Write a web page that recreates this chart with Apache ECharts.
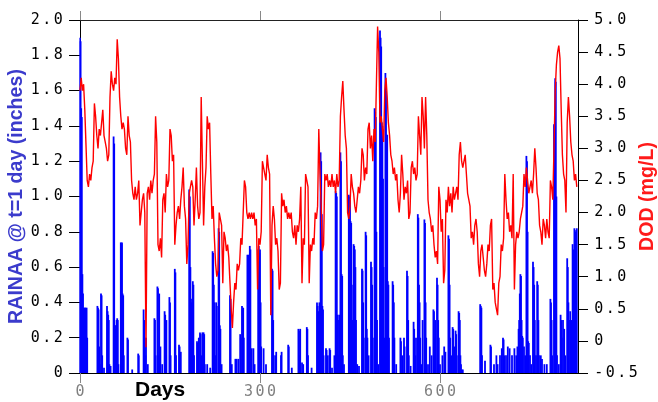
<!DOCTYPE html>
<html>
<head>
<meta charset="utf-8">
<script src="https://cdn.jsdelivr.net/npm/echarts@6/dist/echarts.min.js"></script>
<style>html,body{margin:0;padding:0;background:#fff;}#c{width:658px;height:402px;}</style>
</head>
<body>
<div id="c"></div>
<script>
// DOD (mg/L), sampled every 2 days from day 0 to day 828
const dodValues = [
3.9,4.1,3.9,4.0,3.6,3.05,2.5,2.4,2.6,2.5,
2.7,2.8,3.7,3.5,3.2,3.0,3.3,3.2,3.4,3.6,
3.2,3.1,3.0,2.8,2.9,3.8,4.2,4.0,3.9,4.1,
4.0,4.7,4.4,3.8,3.5,3.3,3.4,3.3,3.0,2.9,
3.5,3.2,3.1,2.5,2.3,2.2,2.4,2.2,2.3,2.5,
1.8,2.0,2.2,2.3,2.0,-0.1,2.3,2.4,2.2,2.5,
2.3,2.5,2.6,3.5,3.1,1.5,1.4,1.6,1.3,2.2,
2.3,2.0,2.6,2.4,2.5,3.3,3.2,2.8,2.9,1.5,
1.8,2.0,2.1,1.9,2.2,2.4,2.7,2.1,1.9,1.2,
1.5,2.3,2.4,2.5,2.4,1.8,2.2,2.7,2.1,1.9,
2.0,3.8,2.8,1.8,2.4,
2.7,3.5,3.3,3.4,2.6,1.9,2.1,1.6,1.2,1.0,
1.1,2.0,2.0,1.8,0.9,1.7,1.6,1.4,1.5,1.3,
0.9,0.5,0.2,0.6,0.9,0.8,1.2,1.1,1.2,1.6,
1.5,2.0,2.5,2.4,2.0,1.9,2.0,1.9,2.0,1.9,
2.0,1.8,1.9,0.8,1.6,1.5,1.7,2.8,2.7,2.6,
2.5,2.9,2.7,2.6,0.4,1.8,2.1,1.9,1.5,1.6,
1.4,0.8,0.9,2.3,2.1,2.2,2.0,2.1,1.9,2.0,
1.9,2.0,1.7,1.6,1.8,1.5,1.8,1.7,1.9,2.4,
0.9,1.6,1.5,2.6,2.5,2.4,0.9,1.5,1.4,1.6,
1.5,2.0,1.9,2.1,3.3,2.6,2.1,1.4,1.5,2.6,
2.5,2.6,2.4,
2.5,2.4,2.6,2.4,2.5,2.3,2.6,2.4,2.5,3.5,
3.8,4.05,3.6,3.2,3.0,2.0,1.9,2.1,2.6,2.4,
2.3,2.1,2.0,2.2,2.4,2.3,2.5,3.0,2.9,2.5,
2.7,2.6,3.3,3.4,3.0,3.2,2.8,3.3,3.1,4.0,
4.9,4.5,3.4,3.5,3.3,3.1,3.9,4.1,3.8,3.4,
3.2,2.9,2.8,2.6,2.7,2.5,2.6,2.2,2.0,2.3,
2.9,2.6,2.2,2.4,2.3,2.5,1.9,2.0,2.7,2.8,
2.6,2.7,2.5,2.6,3.5,3.2,2.9,3.8,3.5,3.0,
3.8,3.2,2.2,2.0,1.9,1.7,1.8,1.5,1.3,1.4,
1.2,2.4,2.2,1.7,1.9,0.9,1.1,2.2,2.0,2.4,
2.1,2.3,2.0,2.4,2.2,
2.3,2.4,2.2,2.9,3.1,2.8,2.7,2.8,2.9,2.6,
2.3,2.2,2.1,1.6,1.7,1.5,1.8,1.9,1.7,1.2,
1.0,1.4,1.5,1.3,1.1,1.0,1.2,1.5,1.4,1.8,
1.9,0.8,0.9,0.6,0.5,0.4,0.9,1.0,1.5,1.4,
1.6,2.6,2.2,1.9,2.0,1.7,1.8,1.6,2.6,0.8,
1.5,1.7,1.6,1.7,1.9,2.0,2.1,2.6,2.4,2.7,
2.5,2.3,2.4,2.5,2.3,2.6,3.0,2.7,2.3,2.2,
1.8,1.7,1.5,1.9,1.8,1.6,1.9,1.7,1.6,2.5,
2.4,2.2,3.0,3.9,4.3,4.5,4.6,4.4,3.6,2.9,
2.6,2.5,2.0,3.4,3.8,3.5,3.1,2.9,2.8,2.5,
2.6,2.4
];
const dodStepDays = 2;
const dodDays = dodValues.map((_, i) => i * dodStepDays);

// Rain (inches) on the days that had rain
const rainDays = [
0,1,2,3,4,5,6,7,8,9,10,11,12,
29,30,31,32,33,35,36,37,40,45,46,47,48,49,51,56,57,58,59,60,61,62,63,64,68,69,70,71,72,73,79,80,87,97,98,106,107,108,109,110,113,124,125,126,129,130,131,132,134,137,141,142,143,144,149,150,151,158,159,160,165,166,168,182,183,184,185,186,187,188,189,190,195,196,198,200,201,203,204,
206,207,208,212,217,221,222,223,224,225,227,228,231,232,233,234,236,250,251,253,259,261,264,267,268,270,271,272,273,279,280,281,282,283,284,286,289,291,297,298,299,300,301,302,306,310,320,321,322,323,326,327,335,336,347,348,353,364,365,366,367,370,372,378,379,380,386,395,396,397,398,399,401,402,403,404,405,406,410,411,413,
416,417,420,424,426,427,428,429,430,431,432,434,435,436,437,438,440,448,449,450,451,452,453,454,456,457,458,459,460,462,465,470,471,472,473,476,477,478,479,481,485,486,487,488,491,492,493,494,495,497,500,501,502,503,504,505,506,507,509,510,511,512,513,514,515,521,522,523,524,527,534,535,537,540,541,545,546,547,548,551,556,557,559,560,563,564,565,566,567,569,571,574,575,576,577,580,583,586,589,590,591,592,595,596,597,598,600,604,607,609,614,615,616,617,619,621,622,624,
626,627,628,631,632,633,634,635,636,638,667,668,669,670,675,684,685,690,694,696,700,703,705,706,707,710,713,716,720,724,727,729,731,732,733,734,735,736,737,738,740,742,744,745,746,747,748,750,752,755,756,757,758,760,762,763,764,765,768,770,774,778,784,785,786,787,790,791,792,793,794,795,798,801,802,803,805,807,809,812,813,814,815,817,819,821,822,823,824,825,826,827,828
];
const rainValues = [
1.9,1.88,1.5,1.45,0.56,0.45,0.37,0.36,0.37,0.37,0.36,0.37,0.2,
0.38,0.37,0.36,0.15,0.05,0.45,0.44,0.1,0.03,0.38,0.35,0.33,0.3,0.05,0.04,1.34,1.3,0.27,0.25,0.27,0.3,0.31,0.3,0.05,0.74,0.73,0.74,0.45,0.44,0.1,0.2,0.19,0.02,0.11,0.1,0.36,0.3,0.2,0.1,0.2,0.05,0.31,0.3,0.1,0.49,0.48,0.1,0.45,0.15,0.05,0.35,0.33,0.1,0.3,0.43,0.4,0.1,0.59,0.57,0.1,0.16,0.15,0.12,1.04,1.0,0.6,0.42,0.4,0.1,0.52,0.5,0.1,0.18,0.17,0.2,0.23,0.22,0.1,0.23,
0.23,0.22,0.05,0.05,0.03,0.69,0.68,0.5,0.4,0.1,0.4,0.38,0.82,0.8,0.27,0.25,0.05,0.44,0.42,0.05,0.08,0.08,0.08,0.22,0.2,0.38,0.36,0.37,0.2,0.67,0.66,0.67,0.5,0.72,0.7,0.14,0.14,0.05,0.7,0.72,0.68,0.7,0.4,0.15,0.14,0.05,0.59,0.58,0.3,0.1,0.1,0.12,0.1,0.12,0.16,0.15,0.03,0.25,0.24,0.1,0.25,0.06,0.05,0.26,0.25,0.1,0.03,0.4,0.38,0.35,0.3,0.4,1.25,1.2,0.9,0.38,0.36,0.1,0.14,0.13,0.1,
0.14,0.13,0.03,0.1,1.03,1.02,1.0,0.33,0.3,0.1,0.33,1.25,1.2,0.56,0.55,0.1,0.05,1.01,1.0,0.98,0.86,0.85,0.5,0.3,0.73,0.72,0.7,0.6,0.3,0.05,0.04,0.59,0.58,0.4,0.2,0.8,0.78,0.25,0.2,0.1,0.63,0.6,0.5,0.2,1.5,1.48,1.45,0.8,0.3,0.05,1.94,1.9,1.85,1.42,1.4,1.1,0.6,0.2,1.7,1.6,1.3,1.35,0.52,0.5,0.2,0.52,0.5,0.4,0.2,0.05,0.2,0.18,0.1,0.2,0.15,0.58,0.55,0.3,0.1,0.04,0.29,0.25,0.1,0.2,0.9,0.88,0.5,0.4,0.2,0.05,0.3,0.87,0.85,0.4,0.2,0.05,0.15,0.1,0.36,0.35,0.2,0.3,0.54,0.5,0.3,0.2,0.05,0.1,0.15,0.12,0.78,0.76,0.5,0.2,0.1,0.26,0.25,0.15,
0.24,0.22,0.1,0.35,0.34,0.3,0.1,0.05,0.02,0.02,0.39,0.38,0.37,0.1,0.07,0.16,0.15,0.05,0.1,0.05,0.1,0.14,0.2,0.19,0.1,0.1,0.15,0.14,0.1,0.14,0.1,0.15,0.25,0.3,0.45,0.56,0.55,0.3,0.21,0.2,0.15,0.1,1.23,1.2,0.8,0.18,0.17,0.1,0.05,0.63,0.6,0.5,0.3,0.1,0.52,0.5,0.3,0.1,0.1,0.08,0.05,0.05,0.42,0.4,0.3,0.1,1.41,1.4,1.67,1.65,1.0,0.1,0.05,0.33,0.3,0.2,0.3,0.25,0.1,0.65,0.6,0.4,0.3,0.35,0.3,0.73,0.7,0.5,0.82,0.8,0.8,0.81,0.82
];

const dayCount = 831; // days 0..830 on the axis
const dayCategories = Array.from({ length: dayCount }, (_, i) => String(i));
const xTickValues = [0, 300, 600];

const xAxisTitle = 'Days';
const leftAxisTitle = 'RAINAA @ t=1 day (inches)';
const rightAxisTitle = 'DOD (mg/L)';

const MONO = '"DejaVu Sans Mono", "Liberation Mono", monospace';
function spaced(s) { return s.split('').map(c => '{c|' + c + '}').join(''); }
function fmt1(v) { return Math.abs(v) < 1e-9 ? '0' : v.toFixed(1); }
function richFor(color) {
  return { c: { width: 11.5, align: 'center', fontFamily: MONO, fontSize: 15, color: color } };
}

const chart = echarts.init(document.getElementById('c'), null, { renderer: 'canvas' });
chart.setOption({
  animation: false,
  backgroundColor: '#ffffff',
  grid: { left: 80, right: 80, top: 20, bottom: 29, containLabel: false, outerBoundsMode: 'none' },
  xAxis: [
    {
      type: 'value', position: 'bottom', min: 0, max: dayCount - 1, interval: 300,
      axisLine: { show: true, onZero: false, lineStyle: { color: '#000', width: 1 } },
      axisTick: { show: true, length: 10, customValues: xTickValues, lineStyle: { color: '#888' } },
      axisLabel: { margin: 12, customValues: xTickValues, formatter: v => spaced(String(v)), rich: richFor('#808080') },
      splitLine: { show: false }
    },
    {
      type: 'value', position: 'top', min: 0, max: dayCount - 1, interval: 300,
      axisLine: { show: true, onZero: false, lineStyle: { color: '#222', width: 1 } },
      axisTick: { show: true, length: 9, customValues: xTickValues, lineStyle: { color: '#888' } },
      axisLabel: { show: false },
      splitLine: { show: false }
    },
    {
      type: 'category', position: 'bottom', data: dayCategories, boundaryGap: false, show: false,
      axisLine: { onZero: false }
    }
  ],
  yAxis: [
    {
      type: 'value', position: 'left', min: 0, max: 2, interval: 0.2,
      name: leftAxisTitle, nameLocation: 'middle', nameGap: 53, nameRotate: 90, nameMoveOverlap: false,
      nameTextStyle: { color: '#3b3bcc', fontSize: 19.6, fontWeight: 'bold', fontFamily: '"Liberation Sans", Arial, sans-serif' },
      axisLine: { show: true, onZero: false, lineStyle: { color: '#000', width: 1 } },
      axisTick: { show: true, length: 11, lineStyle: { color: '#000' } },
      axisLabel: { margin: 16, formatter: v => spaced(fmt1(v)), rich: richFor('#000') },
      splitLine: { show: false }
    },
    {
      type: 'value', position: 'right', min: -0.5, max: 5, interval: 0.5,
      name: rightAxisTitle, nameLocation: 'middle', nameGap: 60, nameRotate: 90, nameMoveOverlap: false,
      nameTextStyle: { color: '#ff1a1a', fontSize: 19.6, fontWeight: 'bold', fontFamily: '"Liberation Sans", Arial, sans-serif' },
      axisLine: { show: true, onZero: false, lineStyle: { color: '#000', width: 1 } },
      axisTick: { show: true, length: 10, lineStyle: { color: '#000' } },
      axisLabel: { margin: 15, formatter: v => spaced(fmt1(v)), rich: richFor('#000') },
      splitLine: { show: false }
    }
  ],
  graphic: [
    { type: 'text', left: 135, top: 380, style: { text: xAxisTitle, font: 'bold 21px "Liberation Sans", Arial, sans-serif', fill: '#000' } }
  ],
  series: [
    {
      name: 'RAINAA', type: 'bar', xAxisIndex: 2, yAxisIndex: 0,
      barWidth: 1.8, barGap: '-100%',
      itemStyle: { color: '#0000ff' },
      data: rainDays.map((d, i) => [d, rainValues[i]]),
      z: 2
    },
    {
      name: 'DOD', type: 'line', xAxisIndex: 0, yAxisIndex: 1,
      showSymbol: false, symbol: 'none',
      lineStyle: { color: '#ff0000', width: 1.4 },
      data: dodDays.map((d, i) => [d, dodValues[i]]),
      z: 3
    }
  ]
});
</script>
</body>
</html>
